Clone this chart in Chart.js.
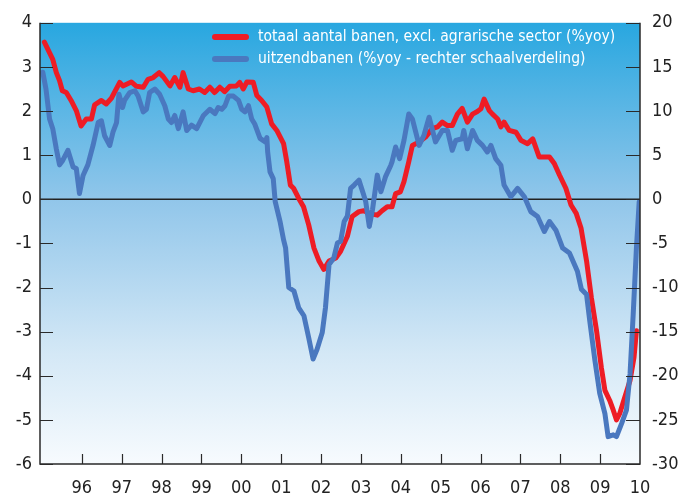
<!DOCTYPE html>
<html>
<head>
<meta charset="utf-8">
<script src="https://cdn.jsdelivr.net/npm/chart.js@4"></script>
<style>
  html, body { margin: 0; padding: 0; background: #fff; }
  #wrap { width: 692px; height: 496px; }
</style>
</head>
<body>
<div id="wrap"><canvas id="banenChart" width="692" height="496"></canvas></div>
<script>
// totaal aantal banen, excl. agrarische sector (%yoy) - linker as
const redDates = [1995.06, 1995.27, 1995.36, 1995.44, 1995.51, 1995.61, 1995.73, 1995.86, 1995.98, 1996.11,
  1996.24, 1996.32, 1996.49, 1996.61, 1996.74, 1996.95, 1997.03, 1997.24, 1997.37, 1997.54,
  1997.66, 1997.79, 1997.94, 1998.04, 1998.21, 1998.33, 1998.46, 1998.54, 1998.67, 1998.79,
  1998.95, 1999.08, 1999.21, 1999.33, 1999.46, 1999.58, 1999.71, 1999.88, 1999.96, 2000.05,
  2000.14, 2000.30, 2000.39, 2000.51, 2000.64, 2000.76, 2000.89, 2001.06, 2001.14, 2001.23,
  2001.31, 2001.44, 2001.56, 2001.69, 2001.82, 2001.95, 2002.07, 2002.20, 2002.37, 2002.49,
  2002.66, 2002.78, 2002.95, 2003.07, 2003.24, 2003.41, 2003.53, 2003.66, 2003.78, 2003.87,
  2003.99, 2004.08, 2004.20, 2004.29, 2004.46, 2004.62, 2004.79, 2004.92, 2005.04, 2005.17,
  2005.29, 2005.42, 2005.54, 2005.67, 2005.80, 2005.92, 2006.01, 2006.09, 2006.22, 2006.30,
  2006.43, 2006.51, 2006.59, 2006.72, 2006.89, 2007.01, 2007.18, 2007.31, 2007.47, 2007.73,
  2007.85, 2007.98, 2008.14, 2008.27, 2008.40, 2008.52, 2008.66, 2008.78, 2008.91, 2009.03,
  2009.12, 2009.24, 2009.33, 2009.41, 2009.49, 2009.62, 2009.75, 2009.85, 2009.91];
const redValues = [3.56, 3.17, 2.87, 2.69, 2.46, 2.42, 2.24, 2.01, 1.66, 1.82,
  1.82, 2.14, 2.24, 2.16, 2.29, 2.65, 2.57, 2.66, 2.56, 2.54,
  2.72, 2.76, 2.87, 2.78, 2.57, 2.76, 2.54, 2.87, 2.50, 2.46,
  2.50, 2.42, 2.54, 2.42, 2.54, 2.44, 2.56, 2.57, 2.65, 2.50,
  2.66, 2.65, 2.35, 2.24, 2.09, 1.71, 1.56, 1.26, 0.85, 0.32,
  0.25, 0.02, -0.17, -0.58, -1.10, -1.40, -1.59, -1.40, -1.33, -1.18,
  -0.84, -0.39, -0.28, -0.26, -0.33, -0.36, -0.26, -0.17, -0.17, 0.13,
  0.17, 0.40, 0.85, 1.22, 1.30, 1.41, 1.60, 1.64, 1.75, 1.67,
  1.67, 1.93, 2.06, 1.75, 1.93, 1.99, 2.05, 2.27, 2.01, 1.93,
  1.82, 1.64, 1.75, 1.56, 1.52, 1.34, 1.26, 1.37, 0.96, 0.96,
  0.81, 0.55, 0.25, -0.13, -0.32, -0.65, -1.40, -2.23, -2.98, -3.81,
  -4.33, -4.56, -4.78, -5.00, -4.86, -4.48, -4.11, -3.58, -2.98];

// uitzendbanen (%yoy) - rechter as
const blueDates = [1995.02, 1995.10, 1995.19, 1995.27, 1995.36, 1995.44, 1995.52, 1995.65, 1995.78, 1995.86,
  1995.94, 1996.03, 1996.15, 1996.28, 1996.41, 1996.49, 1996.57, 1996.70, 1996.78, 1996.87,
  1996.93, 1997.02, 1997.07, 1997.20, 1997.33, 1997.41, 1997.54, 1997.62, 1997.70, 1997.83,
  1997.95, 1998.08, 1998.17, 1998.25, 1998.33, 1998.42, 1998.54, 1998.63, 1998.75, 1998.88,
  1999.05, 1999.21, 1999.34, 1999.42, 1999.51, 1999.59, 1999.68, 1999.80, 1999.93, 2000.01,
  2000.09, 2000.18, 2000.26, 2000.34, 2000.47, 2000.60, 2000.64, 2000.66, 2000.72, 2000.80,
  2000.85, 2000.97, 2001.06, 2001.11, 2001.19, 2001.32, 2001.44, 2001.57, 2001.69, 2001.80,
  2001.90, 2002.03, 2002.11, 2002.20, 2002.32, 2002.41, 2002.49, 2002.58, 2002.66, 2002.74,
  2002.83, 2002.95, 2003.07, 2003.12, 2003.21, 2003.29, 2003.41, 2003.50, 2003.62, 2003.75,
  2003.78, 2003.87, 2003.97, 2004.08, 2004.20, 2004.29, 2004.46, 2004.58, 2004.71, 2004.87,
  2005.04, 2005.17, 2005.29, 2005.38, 2005.54, 2005.58, 2005.67, 2005.80, 2005.92, 2006.05,
  2006.17, 2006.26, 2006.38, 2006.51, 2006.59, 2006.76, 2006.93, 2007.10, 2007.26, 2007.43,
  2007.60, 2007.73, 2007.89, 2008.06, 2008.23, 2008.43, 2008.53, 2008.66, 2008.74, 2008.87,
  2008.99, 2009.12, 2009.20, 2009.33, 2009.41, 2009.54, 2009.66, 2009.75, 2009.83, 2009.91,
  2009.98];
const blueValues = [14.4, 12.5, 9.1, 8.0, 5.7, 3.9, 4.4, 5.55, 3.67, 3.5,
  0.66, 2.7, 3.9, 6.1, 8.7, 8.9, 7.2, 6.1, 7.6, 8.7,
  11.9, 10.4, 11.2, 12.1, 12.3, 11.7, 9.9, 10.2, 12.1, 12.5,
  11.9, 10.6, 9.1, 8.7, 9.5, 8.0, 9.9, 7.8, 8.4, 8.0,
  9.5, 10.2, 9.7, 10.4, 10.2, 10.6, 11.7, 11.7, 11.2, 10.2,
  9.9, 10.6, 9.1, 8.5, 6.9, 6.5, 7.0, 5.4, 3.1, 2.35,
  -0.27, -2.5, -4.6, -5.5, -10.0, -10.4, -12.3, -13.2, -15.7, -18.1,
  -17.0, -15.1, -12.3, -7.4, -6.65, -4.96, -4.77, -2.52, -1.9, 1.23,
  1.61, 2.17, 0.48, -0.27, -3.08, -1.2, 2.74, 0.86, 2.6, 3.86,
  4.23, 5.92, 4.61, 6.68, 9.67, 9.1, 6.11, 7.24, 9.3, 6.5,
  7.8, 7.8, 5.55, 6.68, 6.86, 7.8, 5.73, 7.8, 6.68, 6.11,
  5.36, 6.11, 4.61, 3.86, 1.61, 0.29, 1.23, 0.29, -1.4, -1.96,
  -3.65, -2.52, -3.5, -5.53, -6.09, -8.15, -10.2, -10.8, -13.8, -18.3,
  -22.0, -24.3, -26.9, -26.7, -26.9, -25.4, -23.9, -19.8, -13.0, -5.53,
  -0.27];

const yearTicks = [1996, 1997, 1998, 1999, 2000, 2001, 2002, 2003, 2004, 2005, 2006, 2007, 2008, 2009, 2010];
const leftTicks = [-6, -5, -4, -3, -2, -1, 0, 1, 2, 3, 4];
const rightTicks = [-30, -25, -20, -15, -10, -5, 0, 5, 10, 15, 20];

const seriesLabels = ['totaal aantal banen, excl. agrarische sector (%yoy)', 'uitzendbanen (%yoy - rechter schaalverdeling)'];

const FONT = "'Liberation Sans Narrow', 'DejaVu Sans Condensed', 'Open Sans', sans-serif";
const RED = '#ee1c25';
const BLUE = '#4a78bf';
const AXIS = '#2a2a2a';

function toPoints(xs, ys) {
  return xs.map((x, i) => ({ x: x, y: ys[i] }));
}

// achtergrond met verloop
const bgPlugin = {
  id: 'bg',
  beforeDraw(chart) {
    const { ctx, chartArea: a } = chart;
    const g = ctx.createLinearGradient(0, a.top, 0, a.bottom);
    g.addColorStop(0, 'rgb(40,167,224)');
    g.addColorStop(0.4, 'rgb(145,198,234)');
    g.addColorStop(0.75, 'rgb(212,232,246)');
    g.addColorStop(1, 'rgb(247,251,254)');
    ctx.save();
    ctx.fillStyle = g;
    ctx.fillRect(a.left, a.top, a.right - a.left, a.bottom - a.top);
    // nullijn
    const y0 = chart.scales.y.getPixelForValue(0);
    ctx.strokeStyle = '#222';
    ctx.lineWidth = 1.4;
    ctx.beginPath();
    ctx.moveTo(a.left, y0);
    ctx.lineTo(a.right, y0);
    ctx.stroke();
    ctx.restore();
  }
};

// assen en tickstreepjes naar binnen
const axesPlugin = {
  id: 'axes',
  afterDraw(chart) {
    const { ctx, chartArea: a, scales } = chart;
    ctx.save();
    ctx.strokeStyle = AXIS;
    ctx.lineWidth = 1.5;
    ctx.beginPath();
    ctx.moveTo(a.left, a.top);
    ctx.lineTo(a.left, a.bottom);
    ctx.lineTo(a.right, a.bottom);
    ctx.lineTo(a.right, a.top);
    ctx.stroke();
    ctx.lineWidth = 1.2;
    ctx.beginPath();
    leftTicks.forEach(v => {
      const y = Math.round(scales.y.getPixelForValue(v)) + 0.5;
      ctx.moveTo(a.left, y);
      ctx.lineTo(a.left + 13, y);
    });
    rightTicks.forEach(v => {
      const y = Math.round(scales.y2.getPixelForValue(v)) + 0.5;
      ctx.moveTo(a.right, y);
      ctx.lineTo(a.right - 14, y);
    });
    yearTicks.forEach(v => {
      if (v >= 2010) return;
      const x = Math.round(scales.x.getPixelForValue(v)) + 0.5;
      ctx.moveTo(x, a.bottom);
      ctx.lineTo(x, a.bottom - 10);
    });
    ctx.stroke();

    // legenda
    const items = [
      { color: RED, text: seriesLabels[0], y: 37 },
      { color: BLUE, text: seriesLabels[1], y: 59 }
    ];
    ctx.lineCap = 'round';
    ctx.font = '15.5px ' + FONT;
    ctx.textBaseline = 'middle';
    ctx.textAlign = 'left';
    items.forEach(it => {
      ctx.strokeStyle = it.color;
      ctx.lineWidth = 6;
      ctx.beginPath();
      ctx.moveTo(215, it.y);
      ctx.lineTo(246, it.y);
      ctx.stroke();
      ctx.fillStyle = '#ffffff';
      ctx.fillText(it.text, 258, it.y);
    });
    ctx.restore();
  }
};

const ctx = document.getElementById('banenChart').getContext('2d');
new Chart(ctx, {
  type: 'line',
  data: {
    datasets: [{
      label: seriesLabels[0],
      data: toPoints(redDates, redValues),
      yAxisID: 'y',
      borderColor: RED,
      borderWidth: 5,
      order: 1
    }, {
      label: seriesLabels[1],
      data: toPoints(blueDates, blueValues),
      yAxisID: 'y2',
      borderColor: BLUE,
      borderWidth: 5,
      order: 0
    }]
  },
  options: {
    responsive: false,
    animation: false,
    layout: { padding: { top: 20, left: 0, right: 0, bottom: 0 } },
    elements: {
      point: { radius: 0 },
      line: { tension: 0, borderJoinStyle: 'round', borderCapStyle: 'round', fill: false }
    },
    plugins: {
      legend: { display: false },
      tooltip: { enabled: false }
    },
    scales: {
      x: {
        type: 'linear',
        min: 1994.95,
        max: 2010,
        afterFit(s) { s.height = 32; },
        afterBuildTicks(s) { s.ticks = yearTicks.map(v => ({ value: v })); },
        grid: { display: false, drawTicks: false },
        border: { display: false },
        ticks: {
          autoSkip: false,
          maxRotation: 0,
          padding: 14,
          color: '#222',
          font: { family: FONT, size: 18 },
          callback: v => String(v % 100).padStart(2, '0')
        }
      },
      y: {
        position: 'left',
        min: -6,
        max: 4,
        afterFit(s) { s.width = 40; },
        afterBuildTicks(s) { s.ticks = leftTicks.map(v => ({ value: v })); },
        grid: { display: false, drawTicks: false },
        border: { display: false },
        ticks: { padding: 8, color: '#222', font: { family: FONT, size: 18 } }
      },
      y2: {
        position: 'right',
        min: -30,
        max: 20,
        afterFit(s) { s.width = 52; },
        afterBuildTicks(s) { s.ticks = rightTicks.map(v => ({ value: v })); },
        grid: { display: false, drawTicks: false },
        border: { display: false },
        ticks: { padding: 12, color: '#222', font: { family: FONT, size: 18 } }
      }
    }
  },
  plugins: [bgPlugin, axesPlugin]
});
</script>
</body>
</html>
